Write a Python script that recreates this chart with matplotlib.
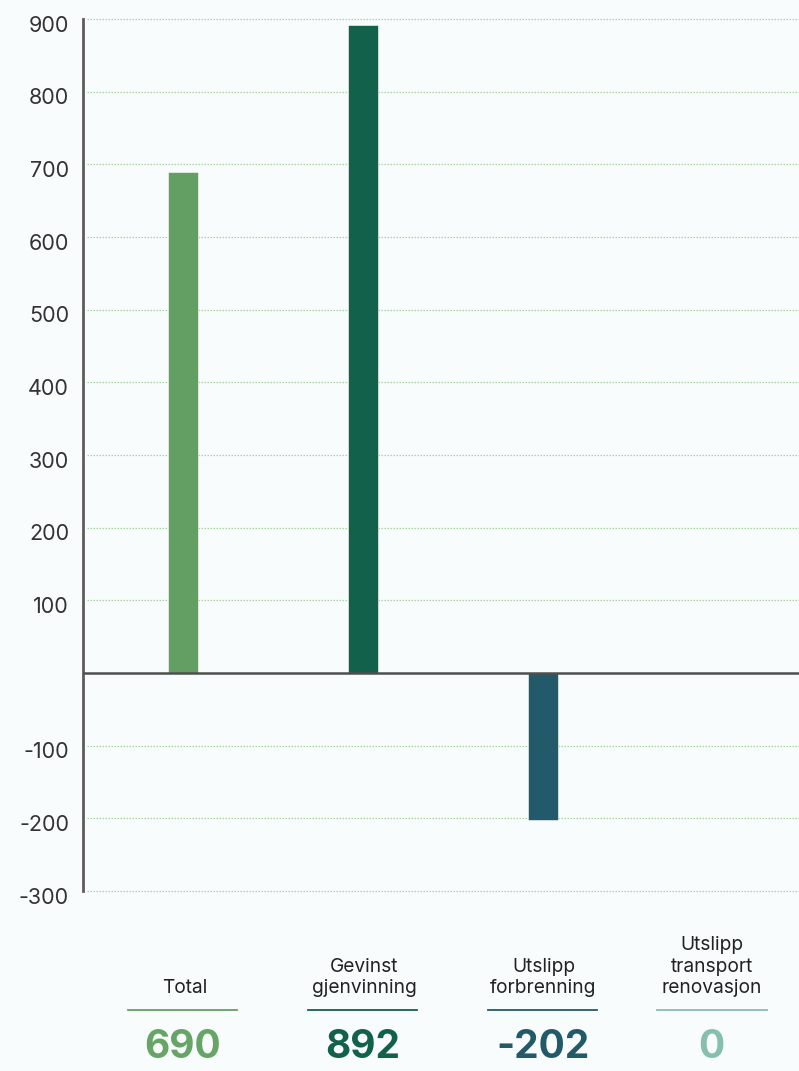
import matplotlib
matplotlib.use("Agg")
import matplotlib.pyplot as plt
from matplotlib.ticker import FixedLocator
from matplotlib.transforms import ScaledTranslation

# ---- data ----
categories = ["Total", "Gevinst\ngjenvinning", "Utslipp\nforbrenning", "Utslipp\ntransport\nrenovasjon"]
values = [690, 892, -202, 0]
value_labels = ["690", "892", "-202", "0"]
yticks = [900, 800, 700, 600, 500, 400, 300, 200, 100, -100, -200, -300]

# ---- style ----
bar_colors = ["#639f63", "#12614a", "#235a69", "#86bfae"]
text_colors = ["#66a566", "#12614a", "#235a69", "#86bfae"]
bg = "#f8fcfc"
plt.rcParams['font.family'] = ['Inter', 'DejaVu Sans']

W, H = 799, 1071
fig = plt.figure(figsize=(W / 100, H / 100), dpi=100, facecolor=bg)
ax_left, ax_top, ax_bottom = 83, 19, 891
ax = fig.add_axes([ax_left / W, (H - ax_bottom) / H, (W - ax_left) / W, (ax_bottom - ax_top) / H])
ax.set_facecolor(bg)

x = list(range(len(categories)))
ax.bar(x, values, width=0.167, color=bar_colors, edgecolor="#ffffff", linewidth=0.4, zorder=3)

ax.set_ylim(-300, 900)
ax.set_xlim(-0.553, -0.553 + (W - ax_left) / 180)

ax.yaxis.set_major_locator(FixedLocator(yticks))
ax.set_yticklabels([str(t) for t in yticks])
ax.tick_params(axis='y', length=0, pad=10, labelsize=15.5, labelcolor="#333333")
ax.set_xticks([])
for gy in yticks:
    ax.axhline(gy, color="#a9d4a0", linestyle=(0, (1.2, 1.2)), linewidth=0.9, zorder=1,
               clip_on=False, xmin=0.005)
shift = ScaledTranslation(0, -0.045, fig.dpi_scale_trans)
for lab in ax.get_yticklabels():
    lab.set_transform(lab.get_transform() + shift)

for s in ["top", "right", "bottom"]:
    ax.spines[s].set_visible(False)
ax.spines["left"].set_color("#5c5c5c")
ax.spines["left"].set_linewidth(2)
ax.axhline(0, color="#4f4f4f", linewidth=1.8, zorder=4)

tr = ax.get_xaxis_transform()
nudge = [0.015, 0.01, 0.005, -0.06]
num_nudge = [0.0, 0.0, 0.0, -0.06]
for i, (cat, vl) in enumerate(zip(categories, value_labels)):
    xc = x[i] + nudge[i]
    ax.text(xc, -0.117, cat, transform=tr, ha='center', va='baseline', fontsize=13.8,
            color="#222222", linespacing=1.25, clip_on=False)
    ax.plot([x[i] + num_nudge[i] - 0.305, x[i] + num_nudge[i] + 0.305], [-0.1365, -0.1365],
            transform=tr, color=bar_colors[i], linewidth=1.3, clip_on=False)
    ax.text(x[i] + num_nudge[i], -0.191, vl, transform=tr, ha='center', va='baseline',
            fontsize=28, fontweight='bold', color=text_colors[i], clip_on=False)

fig.savefig("out.png", dpi=100, facecolor=bg)
